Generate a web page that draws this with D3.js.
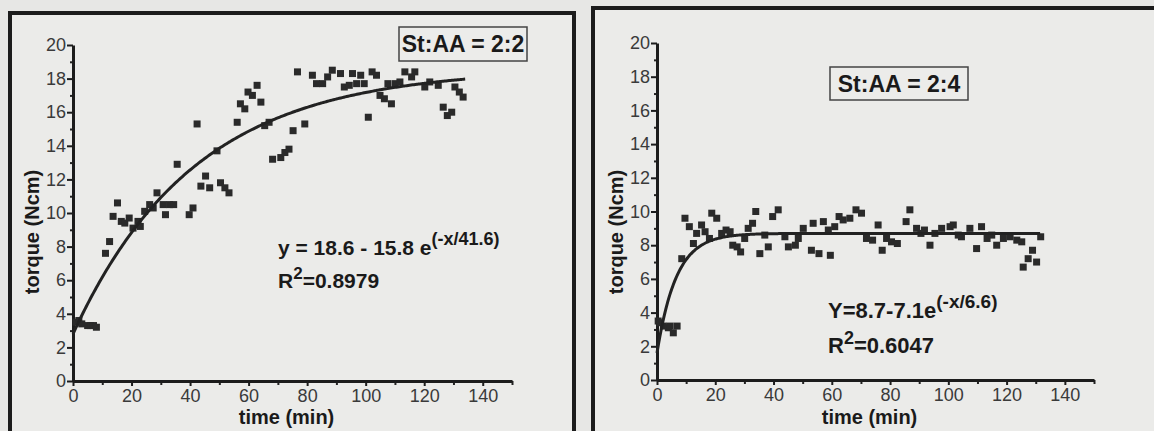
<!DOCTYPE html>
<html>
<head>
<meta charset="utf-8">
<script src="https://cdnjs.cloudflare.com/ajax/libs/d3/7.8.5/d3.min.js"></script>
<style>
body { margin: 0; background: #e7e7e5; }
svg { display: block; }
text { font-family: "Liberation Sans", Arial, sans-serif; }
</style>
</head>
<body>
<svg></svg>
<script>
// time (min) / torque (Ncm)
var timeA = [1, 2, 3, 5, 6, 7, 8, 11.1, 12.5, 13.7, 15.2, 16.5, 17.7, 19.2, 20.5, 22.2, 23, 24.5, 26.2, 27.4, 28.7, 30.8, 31.6, 33, 34.4, 35.6, 39.7, 41, 42.4, 43.7, 45.3, 46.7, 49.2, 50.4, 51.9, 53.3, 56.1, 57.2, 58.7, 59.8, 61.3, 62.9, 64.2, 65.5, 67, 68.2, 71, 72.4, 73.8, 75.2, 76.7, 79.2, 81.8, 83.2, 85.3, 87, 88.6, 91.4, 92.7, 94.4, 95.5, 96.9, 98.3, 99.5, 100.9, 102.2, 103.7, 104.9, 106.4, 107.6, 108.8, 110.1, 111.7, 113.4, 115.7, 116.8, 120.2, 121.9, 124.8, 126.5, 127.9, 129.4, 130.5, 132, 133.3];
var torqueA = [3.5, 3.6, 3.4, 3.3, 3.3, 3.3, 3.2, 7.6, 8.3, 9.8, 10.6, 9.5, 9.4, 9.7, 9.1, 9.5, 9.2, 10.1, 10.5, 10.3, 11.2, 10.5, 9.9, 10.5, 10.5, 12.9, 9.9, 10.3, 15.3, 11.6, 12.2, 11.5, 13.7, 11.8, 11.5, 11.2, 15.4, 16.5, 16.2, 17.2, 17.0, 17.6, 16.6, 15.2, 15.4, 13.2, 13.3, 13.6, 13.8, 14.9, 18.4, 15.3, 18.2, 17.7, 17.7, 18.1, 18.5, 18.3, 17.5, 17.6, 18.3, 17.7, 18.2, 17.7, 15.7, 18.4, 18.2, 17.0, 16.8, 17.7, 16.5, 17.7, 17.8, 18.4, 18.1, 18.4, 17.5, 17.8, 17.6, 16.3, 15.8, 16.0, 17.5, 17.2, 16.9];

var timeB = [0.4, 1, 2.2, 3.9, 4.5, 5.6, 6.9, 8.5, 9.6, 11.1, 12.5, 13.6, 15.3, 16.5, 18, 18.8, 20.5, 22.2, 23.7, 25.1, 26, 27.5, 28.7, 30.1, 31.3, 32.8, 33.9, 35.3, 37, 38.2, 39.7, 41.6, 43.9, 45.1, 47.5, 48.5, 50.2, 53, 53.6, 55.6, 57.1, 58.8, 59.5, 61, 62.5, 63.9, 66.2, 68.3, 70.2, 71.9, 74, 75.9, 77.3, 78.8, 80.5, 82.5, 85.5, 86.8, 89.1, 90.6, 91.8, 93.7, 95.4, 97.7, 100.6, 101.7, 103.4, 104.5, 107.4, 109.7, 111.4, 113.3, 114.9, 116.6, 118.9, 121.2, 123.5, 125.2, 125.7, 127.4, 128.9, 130.3, 131.7];
var torqueB = [3.5, 3.4, 3.2, 3.1, 3.2, 2.8, 3.2, 7.2, 9.6, 9.1, 8.1, 8.7, 9.2, 8.8, 8.4, 9.9, 9.6, 8.7, 8.9, 8.8, 8.0, 7.9, 7.6, 8.4, 9.0, 9.3, 10.0, 7.5, 8.6, 7.9, 9.7, 10.1, 8.5, 7.9, 8.0, 8.4, 9.0, 7.7, 9.3, 7.5, 9.4, 8.9, 7.4, 9.1, 9.7, 9.5, 9.6, 10.1, 9.9, 8.4, 8.3, 9.2, 7.7, 8.4, 8.2, 8.1, 9.4, 10.1, 9.0, 8.7, 8.9, 8.0, 8.7, 9.0, 9.1, 9.2, 8.6, 8.5, 9.0, 7.8, 9.1, 8.4, 8.6, 8.0, 8.4, 8.5, 8.3, 8.2, 6.7, 7.2, 7.7, 7.0, 8.5];

// fit parameters printed on the chart: y = a - b*exp(-x/tau)
var fitA = [18.6, 15.8, 41.6];
var fitB = [8.7, 7.1, 6.6];
var fitRangeA = [0, 134];
var fitRangeB = [0, 131.5];

var xTicks = [0, 20, 40, 60, 80, 100, 120, 140];
var yTicks = [0, 2, 4, 6, 8, 10, 12, 14, 16, 18, 20];

var svgWidth = 1154;
var svgHeight = 431;

var svg =
    d3.select("svg")
    .attr("width", svgWidth)
    .attr("height", svgHeight);

svg.append("rect")
    .attr("width", svgWidth)
    .attr("height", svgHeight)
    .attr("fill", "#e7e7e5");

function drawPanel(p) {
    var g = svg.append("g");

    // frame around the panel
    g.append("rect")
        .attr("x", p.frame[0])
        .attr("y", p.frame[1])
        .attr("width", p.frame[2])
        .attr("height", p.frame[3])
        .attr("fill", "#ebebe9")
        .attr("stroke", "#1c1c1c")
        .attr("stroke-width", 4);

    var x = d3.scaleLinear().domain([0, 150]).range([p.left, p.right]);
    var y = d3.scaleLinear().domain([0, 20]).range([p.bottom, p.top]);

    // minor ticks
    g.append("g")
        .attr("transform", "translate(0," + p.bottom + ")")
        .call(d3.axisBottom(x).tickValues(d3.range(10, 151, 20)).tickSize(4).tickFormat(""))
        .call(function (s) { s.select(".domain").remove(); })
        .selectAll("line").attr("stroke", "#222").attr("stroke-width", 2);
    g.append("g")
        .attr("transform", "translate(" + p.left + ",0)")
        .call(d3.axisLeft(y).tickValues(d3.range(1, 20, 2)).tickSize(3).tickFormat(""))
        .call(function (s) { s.select(".domain").remove(); })
        .selectAll("line").attr("stroke", "#222").attr("stroke-width", 2);

    var xAxis = g.append("g")
        .attr("transform", "translate(0," + p.bottom + ")")
        .call(d3.axisBottom(x).tickValues(xTicks).tickSize(5).tickPadding(3).tickSizeOuter(0));
    var yAxis = g.append("g")
        .attr("transform", "translate(" + p.left + ",0)")
        .call(d3.axisLeft(y).tickValues(yTicks).tickSize(6).tickPadding(1).tickSizeOuter(0));

    [xAxis, yAxis].forEach(function (a) {
        a.select(".domain").attr("stroke", "#1c1c1c").attr("stroke-width", 3);
        a.selectAll(".tick line").attr("stroke", "#1c1c1c").attr("stroke-width", 2);
        a.selectAll(".tick text")
            .attr("fill", "#3a3a3a")
            .style("font-size", "18px")
            .style("font-family", "\"Liberation Sans\", Arial, sans-serif");
    });

    // data squares
    var pts = d3.zip(p.times, p.torques);
    g.append("g")
        .selectAll("rect")
        .data(pts)
        .join("rect")
        .attr("x", function (d) { return x(d[0]) - 3.5; })
        .attr("y", function (d) { return y(d[1]) - 3.5; })
        .attr("width", 7)
        .attr("height", 7)
        .attr("fill", "#2a2a2a");

    // fitted curve from the printed equation
    var xs = d3.range(p.fitRange[0], p.fitRange[1], 0.5).concat([p.fitRange[1]]);
    var line = d3.line()
        .x(function (t) { return x(t); })
        .y(function (t) { return y(p.fit[0] - p.fit[1] * Math.exp(-t / p.fit[2])); })
        .curve(d3.curveMonotoneX);
    g.append("path")
        .attr("d", line(xs))
        .attr("fill", "none")
        .attr("stroke", "#222")
        .attr("stroke-width", 3);

    // axis titles
    g.append("text")
        .attr("x", (p.left + p.right) / 2 - 6)
        .attr("y", 424)
        .attr("text-anchor", "middle")
        .style("font-size", "20px")
        .style("font-weight", "bold")
        .attr("fill", "#1a1a1a")
        .text("time (min)");
    g.append("text")
        .attr("transform", "translate(" + (p.left - 34) + "," + 232 + ") rotate(-90)")
        .attr("text-anchor", "middle")
        .style("font-size", "20px")
        .style("font-weight", "bold")
        .attr("fill", "#1a1a1a")
        .text("torque (Ncm)");

    // ratio label box
    g.append("rect")
        .attr("x", p.box[0])
        .attr("y", p.box[1])
        .attr("width", p.box[2])
        .attr("height", p.box[3])
        .attr("fill", "#ececea")
        .attr("stroke", "#444")
        .attr("stroke-width", 1.5);
    g.append("text")
        .attr("x", p.box[0] + p.box[2] / 2)
        .attr("y", p.box[1] + p.box[3] / 2 + 8)
        .attr("text-anchor", "middle")
        .style("font-size", "23px")
        .style("font-weight", "bold")
        .attr("fill", "#1a1a1a")
        .text(p.label);

    // equation and R^2
    var eq = g.append("text")
        .attr("x", p.eqPos[0])
        .attr("y", p.eqPos[1])
        .style("font-size", p.eqSize + "px")
        .style("font-weight", "bold")
        .attr("fill", "#1a1a1a");
    eq.append("tspan").text(p.eq[0]);
    eq.append("tspan").attr("dy", -10).style("font-size", (p.eqSize - 3) + "px").text(p.eq[1]);

    var r2 = g.append("text")
        .attr("x", p.eqPos[0])
        .attr("y", p.r2Y)
        .style("font-size", p.eqSize + "px")
        .style("font-weight", "bold")
        .attr("fill", "#1a1a1a");
    r2.append("tspan").text("R");
    r2.append("tspan").attr("dy", -9).style("font-size", (p.eqSize - 4) + "px").text("2");
    r2.append("tspan").attr("dy", 9).text(p.r2);
}

drawPanel({
    frame: [10, 13, 564, 440],
    left: 73, right: 512, top: 45, bottom: 381,
    times: timeA, torques: torqueA,
    fit: fitA, fitRange: fitRangeA,
    box: [399, 27, 128, 34],
    label: "St:AA = 2:2",
    eqPos: [278, 255], r2Y: 288, eqSize: 21,
    eq: ["y = 18.6 - 15.8 e", "(-x/41.6)"],
    r2: "=0.8979"
});

drawPanel({
    frame: [593, 8, 580, 440],
    left: 657, right: 1094, top: 43, bottom: 380,
    times: timeB, torques: torqueB,
    fit: fitB, fitRange: fitRangeB,
    box: [830, 67, 138, 33],
    label: "St:AA = 2:4",
    eqPos: [828, 318], r2Y: 353, eqSize: 22,
    eq: ["Y=8.7-7.1e", "(-x/6.6)"],
    r2: "=0.6047"
});
</script>
</body>
</html>
